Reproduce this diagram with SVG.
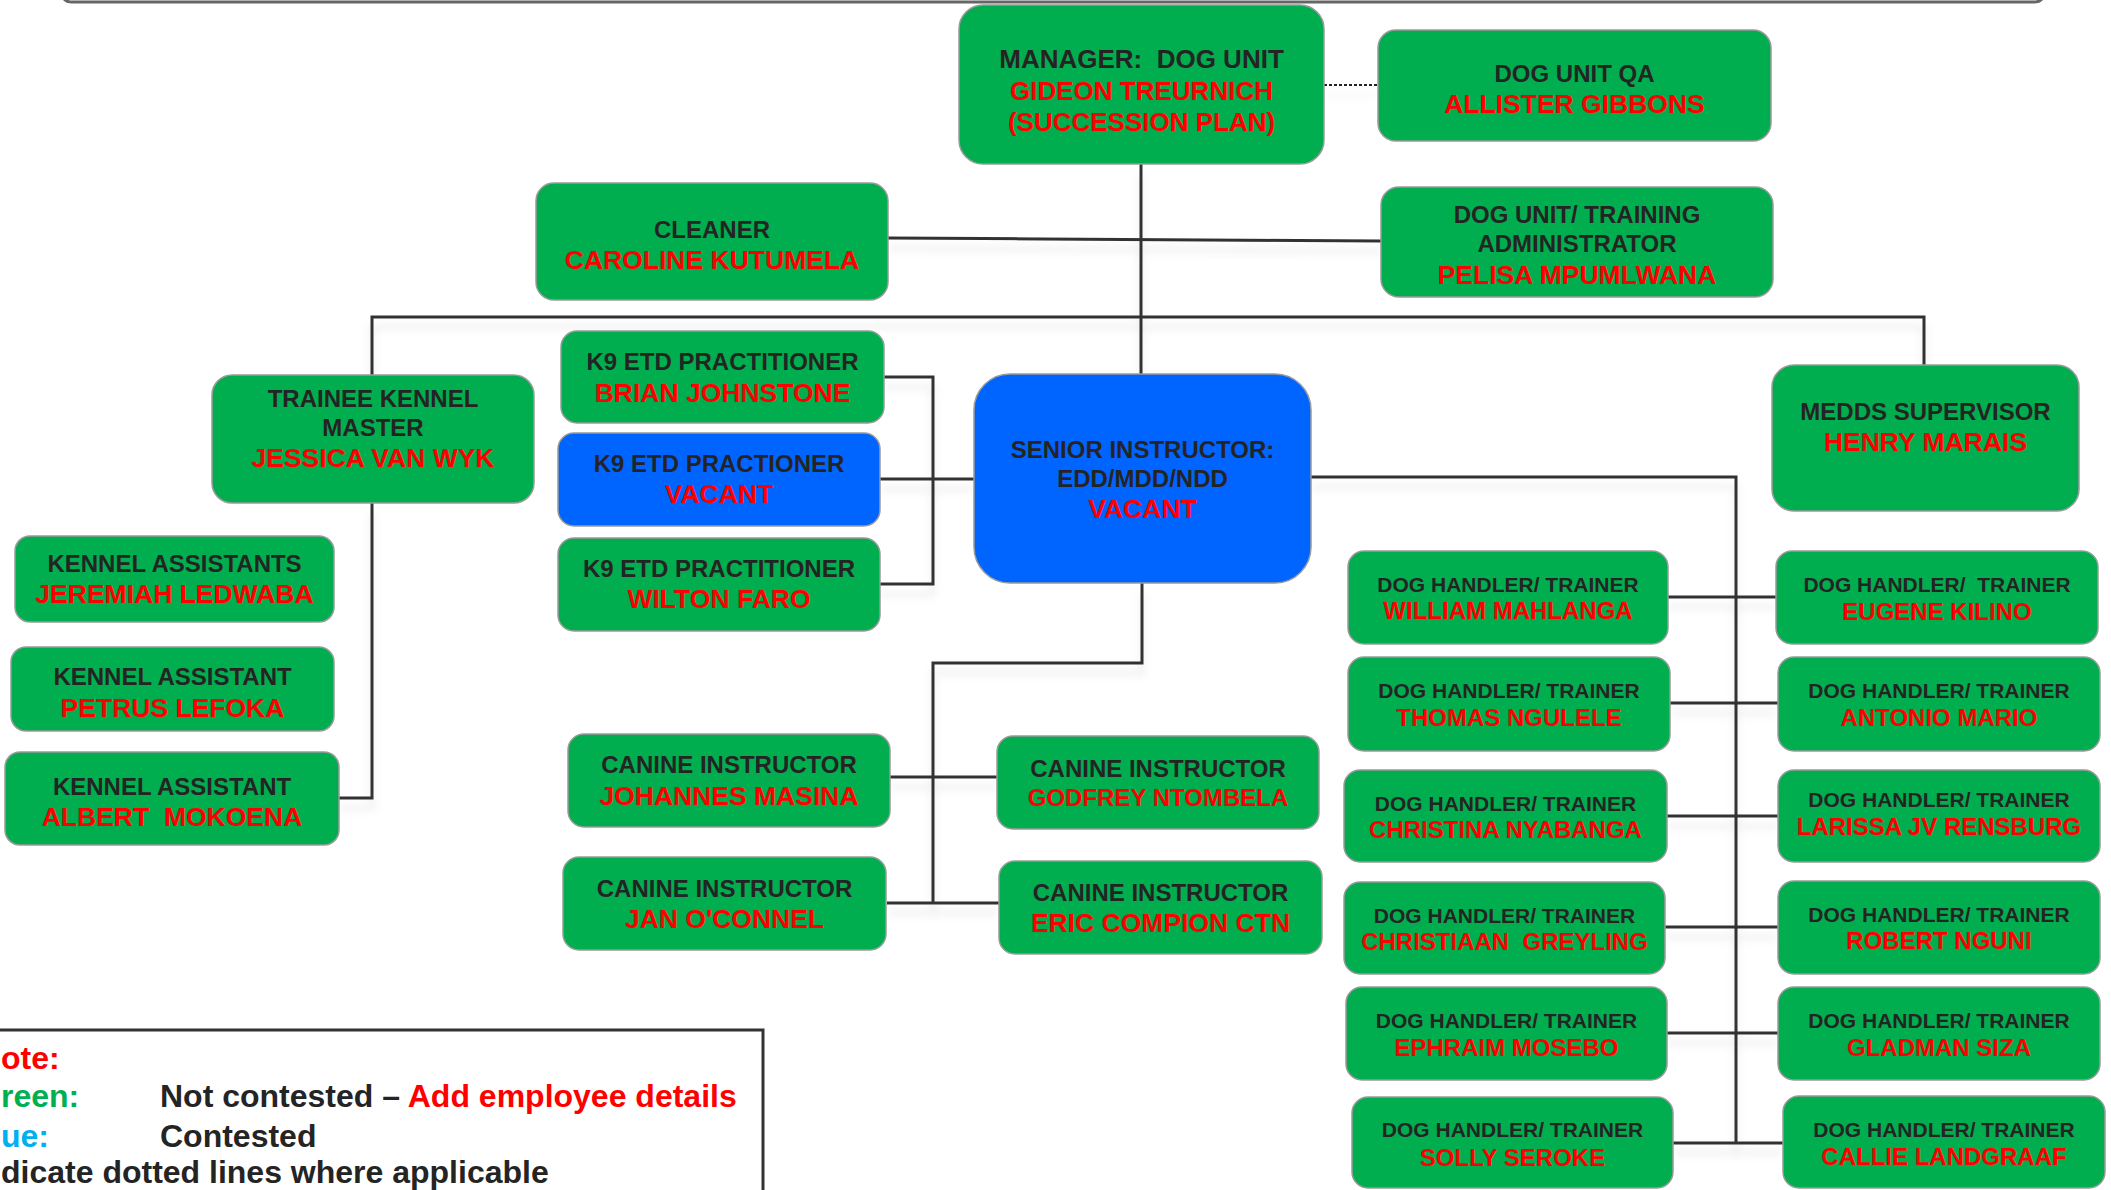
<svg xmlns="http://www.w3.org/2000/svg" width="2111" height="1190" viewBox="0 0 2111 1190">
<defs>
<filter id="lsh" x="-5%" y="-50%" width="110%" height="300%">
<feDropShadow dx="0" dy="10" stdDeviation="4" flood-color="#000" flood-opacity="0.10"/>
</filter>
</defs>
<style>
.g{fill:#00AE4F;stroke:#9a9a9a;stroke-width:1.5}
.b{fill:#0064FF;stroke:#9a9a9a;stroke-width:1.5}
text{font-family:"Liberation Sans",Arial,sans-serif;font-weight:bold;text-anchor:middle}
.t{fill:#242424;font-size:24px}
.n{fill:#FF0000;font-size:26.5px}
.ts{fill:#242424;font-size:21px}
.ns{fill:#FF0000;font-size:24px}
.m{font-size:26px}
.pre{white-space:pre}
.c{fill:none;stroke:#333;stroke-width:3}
.lg{font-size:32px;text-anchor:start}
</style>
<rect width="2111" height="1190" fill="#fff"/>
<path d="M61 -12 Q61 2 72 2 L2034 2 Q2045 2 2045 -12" fill="none" stroke="#666" stroke-width="3"/>

<g id="connectors" filter="url(#lsh)">
<path class="c" d="M1141 164 V374"/>
<path class="c" d="M888 238 L1381 241"/>
<path class="c" d="M372 375 V317 H1924 V365"/>
<path class="c" d="M372 503 V798 H339"/>
<path class="c" d="M884 377 H933 V584 H880"/>
<path class="c" d="M880 479 H974"/>
<path class="c" d="M1311 477 H1736 V1143"/>
<path class="c" d="M1668 597 H1776"/>
<path class="c" d="M1670 703 H1778"/>
<path class="c" d="M1667 816 H1778"/>
<path class="c" d="M1665 927 H1778"/>
<path class="c" d="M1667 1033 H1778"/>
<path class="c" d="M1673 1143 H1783"/>
<path class="c" d="M1142 583 V663 H933 V903"/>
<path class="c" d="M890 777 H997"/>
<path class="c" d="M887 903 H999"/>
<path d="M1324 85 H1378" fill="none" stroke="#222" stroke-width="2.2" stroke-dasharray="3 2"/>
</g>

<g id="manager"><rect class="g" x="959" y="5" width="365" height="159" rx="24"/>
<text class="t m pre" x="1141.5" y="68">MANAGER:  DOG UNIT</text>
<text class="n m" x="1141.5" y="100">GIDEON TREURNICH</text>
<text class="n m" x="1141.5" y="131">(SUCCESSION PLAN)</text></g>

<g id="qa"><rect class="g" x="1378" y="30" width="393" height="111" rx="18"/>
<text class="t" x="1574.5" y="82">DOG UNIT QA</text>
<text class="n" x="1574.5" y="113">ALLISTER GIBBONS</text></g>

<g id="cleaner"><rect class="g" x="536" y="183" width="352" height="117" rx="18"/>
<text class="t" x="712" y="238">CLEANER</text>
<text class="n" x="712" y="269">CAROLINE KUTUMELA</text></g>

<g id="admin"><rect class="g" x="1381" y="187" width="392" height="110" rx="18"/>
<text class="t" x="1577" y="223">DOG UNIT/ TRAINING</text>
<text class="t" x="1577" y="252">ADMINISTRATOR</text>
<text class="n" x="1577" y="284">PELISA MPUMLWANA</text></g>

<g id="trainee"><rect class="g" x="212" y="375" width="322" height="128" rx="20"/>
<text class="t" x="373" y="407">TRAINEE KENNEL</text>
<text class="t" x="373" y="436">MASTER</text>
<text class="n" x="373" y="467">JESSICA VAN WYK</text></g>

<g id="k9-brian"><rect class="g" x="561" y="331" width="323" height="92" rx="16"/>
<text class="t" x="722.5" y="370">K9 ETD PRACTITIONER</text>
<text class="n" x="722.5" y="402">BRIAN JOHNSTONE</text></g>

<g id="k9-vacant"><rect class="b" x="558" y="433" width="322" height="93" rx="16"/>
<text class="t" x="719" y="472">K9 ETD PRACTIONER</text>
<text class="n" x="719" y="503">VACANT</text></g>

<g id="k9-wilton"><rect class="g" x="558" y="538" width="322" height="93" rx="16"/>
<text class="t" x="719" y="577">K9 ETD PRACTITIONER</text>
<text class="n" x="719" y="608">WILTON FARO</text></g>

<g id="senior"><rect class="b" x="974" y="374" width="337" height="209" rx="36"/>
<text class="t" x="1142.5" y="458">SENIOR INSTRUCTOR:</text>
<text class="t" x="1142.5" y="487">EDD/MDD/NDD</text>
<text class="n" x="1142.5" y="518">VACANT</text></g>

<g id="medds"><rect class="g" x="1772" y="365" width="307" height="146" rx="22"/>
<text class="t" x="1925.5" y="420">MEDDS SUPERVISOR</text>
<text class="n" x="1925.5" y="451">HENRY MARAIS</text></g>

<g id="ka-jeremiah"><rect class="g" x="15" y="536" width="319" height="86" rx="15"/>
<text class="t" x="174.5" y="572">KENNEL ASSISTANTS</text>
<text class="n" x="174.5" y="603">JEREMIAH LEDWABA</text></g>

<g id="ka-petrus"><rect class="g" x="11" y="647" width="323" height="84" rx="15"/>
<text class="t" x="172.5" y="685">KENNEL ASSISTANT</text>
<text class="n" x="172.5" y="717">PETRUS LEFOKA</text></g>

<g id="ka-albert"><rect class="g" x="5" y="752" width="334" height="93" rx="15"/>
<text class="t" x="172" y="795">KENNEL ASSISTANT</text>
<text class="n pre" x="172" y="826">ALBERT  MOKOENA</text></g>

<g id="ci-johannes"><rect class="g" x="568" y="734" width="322" height="93" rx="16"/>
<text class="t" x="729" y="773">CANINE INSTRUCTOR</text>
<text class="n" x="729" y="805">JOHANNES MASINA</text></g>

<g id="ci-jan"><rect class="g" x="563" y="857" width="323" height="93" rx="16"/>
<text class="t" x="724.5" y="897">CANINE INSTRUCTOR</text>
<text class="n" x="724.5" y="928">JAN O'CONNEL</text></g>

<g id="ci-godfrey"><rect class="g" x="997" y="736" width="322" height="93" rx="16"/>
<text class="t" x="1158" y="777">CANINE INSTRUCTOR</text>
<text class="ns" x="1158" y="806">GODFREY NTOMBELA</text></g>

<g id="ci-eric"><rect class="g" x="999" y="861" width="323" height="93" rx="16"/>
<text class="t" x="1160.5" y="901">CANINE INSTRUCTOR</text>
<text class="n" x="1160.5" y="932">ERIC COMPION CTN</text></g>

<g id="dh-william"><rect class="g" x="1348" y="551" width="320" height="93" rx="16"/>
<text class="ts" x="1508" y="592">DOG HANDLER/ TRAINER</text>
<text class="ns" x="1508" y="619">WILLIAM MAHLANGA</text></g>

<g id="dh-thomas"><rect class="g" x="1348" y="657" width="322" height="94" rx="16"/>
<text class="ts" x="1509" y="698">DOG HANDLER/ TRAINER</text>
<text class="ns" x="1509" y="726">THOMAS NGULELE</text></g>

<g id="dh-christina"><rect class="g" x="1344" y="770" width="323" height="92" rx="16"/>
<text class="ts" x="1505.5" y="811">DOG HANDLER/ TRAINER</text>
<text class="ns" x="1505.5" y="838">CHRISTINA NYABANGA</text></g>

<g id="dh-christiaan"><rect class="g" x="1344" y="882" width="321" height="92" rx="16"/>
<text class="ts" x="1504.5" y="923">DOG HANDLER/ TRAINER</text>
<text class="ns pre" x="1504.5" y="950">CHRISTIAAN  GREYLING</text></g>

<g id="dh-ephraim"><rect class="g" x="1346" y="987" width="321" height="93" rx="16"/>
<text class="ts" x="1506.5" y="1028">DOG HANDLER/ TRAINER</text>
<text class="ns" x="1506.5" y="1056">EPHRAIM MOSEBO</text></g>

<g id="dh-solly"><rect class="g" x="1352" y="1097" width="321" height="91" rx="16"/>
<text class="ts" x="1512.5" y="1137">DOG HANDLER/ TRAINER</text>
<text class="ns" x="1512.5" y="1166">SOLLY SEROKE</text></g>

<g id="dh-eugene"><rect class="g" x="1776" y="551" width="322" height="93" rx="16"/>
<text class="ts pre" x="1937" y="592">DOG HANDLER/  TRAINER</text>
<text class="ns" x="1937" y="620">EUGENE KILINO</text></g>

<g id="dh-antonio"><rect class="g" x="1778" y="657" width="322" height="94" rx="16"/>
<text class="ts" x="1939" y="698">DOG HANDLER/ TRAINER</text>
<text class="ns" x="1939" y="726">ANTONIO MARIO</text></g>

<g id="dh-larissa"><rect class="g" x="1778" y="770" width="322" height="92" rx="16"/>
<text class="ts" x="1939" y="807">DOG HANDLER/ TRAINER</text>
<text class="ns" x="1939" y="835">LARISSA JV RENSBURG</text></g>

<g id="dh-robert"><rect class="g" x="1778" y="881" width="322" height="93" rx="16"/>
<text class="ts" x="1939" y="922">DOG HANDLER/ TRAINER</text>
<text class="ns" x="1939" y="949">ROBERT NGUNI</text></g>

<g id="dh-gladman"><rect class="g" x="1778" y="987" width="322" height="93" rx="16"/>
<text class="ts" x="1939" y="1028">DOG HANDLER/ TRAINER</text>
<text class="ns" x="1939" y="1056">GLADMAN SIZA</text></g>

<g id="dh-callie"><rect class="g" x="1783" y="1096" width="322" height="92" rx="16"/>
<text class="ts" x="1944" y="1137">DOG HANDLER/ TRAINER</text>
<text class="ns" x="1944" y="1165">CALLIE LANDGRAAF</text></g>

<g id="legend">
<rect x="-20" y="1030" width="783" height="200" fill="#fff" stroke="#333" stroke-width="3"/>
<text class="lg" x="1" y="1069" fill="#FF0000">ote:</text>
<text class="lg" x="1" y="1107" fill="#00B050">reen:</text>
<text class="lg" x="160" y="1107" fill="#242424">Not contested – <tspan fill="#FF0000">Add employee details</tspan></text>
<text class="lg" x="1" y="1147" fill="#00B0F0">ue:</text>
<text class="lg" x="160" y="1147" fill="#242424">Contested</text>
<text class="lg" x="1" y="1183" fill="#242424">dicate dotted lines where applicable</text>
</g>
</svg>
